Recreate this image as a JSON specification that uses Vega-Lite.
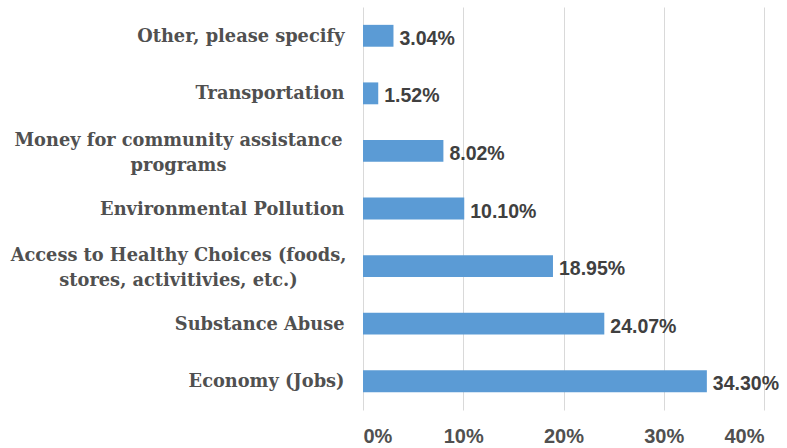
{
  "$schema": "https://vega.github.io/schema/vega-lite/v6.json",
  "autosize": {"type": "none"},
  "width": 401,
  "height": 403,
  "padding": {"left": 363, "top": 7, "right": 23, "bottom": 38},
  "background": "white",
  "data": {
    "values": [
      {"category": "Other, please specify", "value": 3.04},
      {"category": "Transportation", "value": 1.52},
      {"category": "Money for community assistance|programs", "value": 8.02},
      {"category": "Environmental Pollution", "value": 10.10},
      {"category": "Access to Healthy Choices (foods,|stores, activitivies, etc.)", "value": 18.95},
      {"category": "Substance Abuse", "value": 24.07},
      {"category": "Economy (Jobs)", "value": 34.30}
    ]
  },
  "config": {"view": {"stroke": null}},
  "encoding": {
    "y": {
      "field": "category",
      "type": "nominal",
      "sort": null,
      "scale": {"paddingInner": 0.62, "paddingOuter": 0.31},
      "axis": {
        "title": null,
        "domain": false,
        "ticks": false,
        "labelPadding": {"condition": {"test": "indexof(datum.value, '|') >= 0", "value": 185}, "value": 19},
        "labelAlign": {"condition": {"test": "indexof(datum.value, '|') >= 0", "value": "center"}, "value": "right"},
        "labelFont": "DejaVu Serif",
        "labelFontWeight": "bold",
        "labelFontSize": 17.8,
        "labelColor": "#505050",
        "labelLimit": 400,
        "labelLineHeight": 25,
        "labelOffset": {"condition": {"test": "indexof(datum.value, '|') >= 0", "value": -10}, "value": 1},
        "labelExpr": "split(datum.value, '|')"
      }
    },
    "x": {
      "field": "value",
      "type": "quantitative",
      "scale": {"domain": [0, 40]},
      "axis": {
        "title": null,
        "values": [0, 10, 20, 30, 40],
        "labelExpr": "datum.value + '%'",
        "domain": false,
        "ticks": false,
        "gridColor": "#d9d9d9",
        "labelFont": "Liberation Sans",
        "labelFontWeight": "bold",
        "labelFontSize": 20,
        "labelColor": "#505050",
        "labelPadding": 16
      }
    }
  },
  "layer": [
    {"mark": {"type": "bar", "color": "#5b9bd5"}},
    {
      "mark": {"type": "text", "align": "left", "dx": 6, "font": "Liberation Sans", "fontWeight": "bold", "fontSize": 19.5, "color": "#404040", "dy": 3,
        "text": {"expr": "format(datum.value, '.2f') + '%'"}}
    }
  ]
}
